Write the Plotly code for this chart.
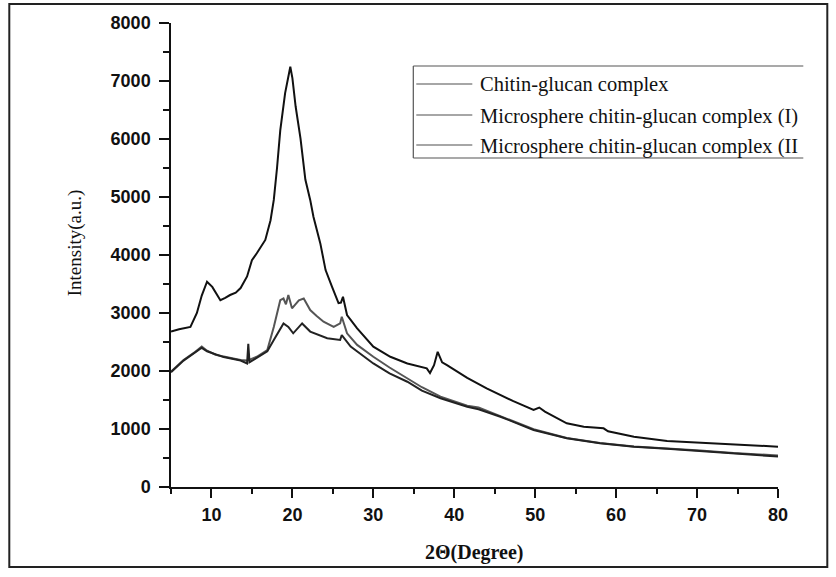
import plotly.graph_objects as go

# ---------------- data ----------------
cg_x = [5.0, 6.0, 7.4, 8.2, 8.8, 9.45, 10.1, 10.7, 11.1, 11.7, 12.3, 13.0, 13.6, 14.4, 15.0, 15.6,
        16.2, 16.65, 17.3, 17.7, 18.1, 18.5, 19.1, 19.5, 19.74, 20.0, 20.4, 21.0, 21.6, 22.2, 22.6,
        23.45, 24.1, 24.9, 25.7, 26.0, 26.25, 26.75, 28.0, 30.0, 32.1, 34.2, 36.6, 37.0, 37.5, 37.95,
        38.5, 39.1, 41.6, 44.0, 45.7, 47.3, 49.8, 50.5, 51.2, 53.9, 56.0, 58.45, 59.0, 62.2, 66.3,
        70.4, 74.5, 80.0]
cg_y = [2680, 2720, 2760, 3000, 3300, 3540, 3450, 3300, 3220, 3260, 3310, 3350, 3430, 3630, 3910, 4030,
        4150, 4260, 4600, 4950, 5500, 6150, 6790, 7100, 7245, 7050, 6560, 6010, 5300, 4950, 4660,
        4200, 3740, 3450, 3170, 3180, 3280, 2965, 2735, 2420, 2245, 2130, 2045, 1965, 2100, 2330,
        2150, 2100, 1880, 1700, 1586, 1480, 1327, 1370, 1300, 1098, 1040, 1012, 960, 867, 793,
        764, 736, 695]

m1_x = [5.0, 6.55, 8.0, 8.8, 9.45, 10.5, 11.5, 12.5, 13.6, 14.4, 15.6, 16.9, 17.7, 18.5, 18.9, 19.2,
        19.5, 19.95, 20.4, 20.8, 21.4, 22.2, 23.0, 23.85, 25.1, 25.9, 26.1, 26.75, 28.0, 30.0, 32.0,
        34.2, 36.0, 38.3, 40.0, 41.6, 43.0, 45.7, 49.8, 53.9, 58.0, 62.2, 66.3, 70.4, 74.5, 80.0]
m1_y = [1990, 2190, 2330, 2420, 2350, 2280, 2250, 2220, 2190, 2180, 2245, 2360, 2760, 3220, 3250, 3150,
        3310, 3080, 3150, 3220, 3250, 3050, 2950, 2850, 2760, 2820, 2935, 2650, 2450, 2245, 2060,
        1880, 1720, 1557, 1470, 1400, 1370, 1220, 995, 845, 760, 700, 670, 630, 585, 545]

m2_x = [5.0, 6.55, 8.8, 9.45, 11.5, 13.6, 14.4, 14.55, 14.7, 15.6, 16.9, 17.7, 18.9, 19.5, 20.1, 21.2,
        22.2, 24.3, 25.9, 26.1, 27.2, 30.0, 32.0, 34.2, 36.0, 38.3, 41.6, 43.0, 45.7, 49.8, 53.9,
        58.0, 62.2, 66.3, 70.4, 74.5, 80.0]
m2_y = [1980, 2180, 2400, 2340, 2240, 2180, 2130, 2470, 2150, 2230, 2340, 2535, 2820, 2760, 2650, 2820,
        2680, 2565, 2535, 2620, 2420, 2130, 1960, 1815, 1660, 1530, 1384, 1340, 1212, 983, 840,
        753, 695, 660, 620, 575, 525]

legend_labels = ["Chitin-glucan complex",
                 "Microsphere chitin-glucan complex (I)",
                 "Microsphere chitin-glucan complex (II"]
x_tick_vals = [10, 20, 30, 40, 50, 60, 70, 80]
y_tick_vals = [0, 1000, 2000, 3000, 4000, 5000, 6000, 7000, 8000]

# ---------------- layout geometry ----------------
W, H = 836, 577
L, R, T, B = 170.7, 777.7, 23.0, 487.0   # plot area in pixels


def px(x):
    return (x - L) / (R - L)


def py(y):
    return (B - y) / (B - T)


fig = go.Figure()
series = [(cg_x, cg_y, "#111111"), (m1_x, m1_y, "#555555"), (m2_x, m2_y, "#222222")]
for (xs, ys, col), name in zip(series, legend_labels):
    fig.add_trace(go.Scatter(x=xs, y=ys, mode="lines", name=name,
                             line=dict(color=col, width=2), showlegend=False))

axis_font = dict(family="Liberation Sans", size=18, color="#111111", weight="bold")
fig.update_layout(
    width=W, height=H, autosize=False,
    margin=dict(l=L, r=W - R, t=T, b=H - B, pad=0),
    paper_bgcolor="white", plot_bgcolor="white",
    xaxis=dict(range=[5, 80], tickvals=x_tick_vals, ticks="outside", ticklen=9, tickwidth=1.5,
               tickcolor="#111", showline=True, linecolor="#111", linewidth=1.5, showgrid=False,
               zeroline=False, tickfont=axis_font, ticklabelstandoff=2,
               minor=dict(tickvals=[5, 15, 25, 35, 45, 55, 65, 75], ticks="outside", ticklen=5,
                          tickwidth=1.5, tickcolor="#111", showgrid=False)),
    yaxis=dict(range=[0, 8000], tickvals=y_tick_vals, ticks="outside", ticklen=10, tickwidth=1.5,
               tickcolor="#111", showline=True, linecolor="#111", linewidth=1.5, showgrid=False,
               zeroline=False, tickfont=axis_font, ticklabelstandoff=5,
               minor=dict(tickvals=[500, 1500, 2500, 3500, 4500, 5500, 6500, 7500], ticks="outside",
                          ticklen=6, tickwidth=1.5, tickcolor="#111", showgrid=False)),
)

shapes = []
# outer frame
shapes.append(dict(type="rect", xref="paper", yref="paper", x0=px(9), x1=px(827), y0=py(567), y1=py(4),
                   line=dict(color="#222", width=2), layer="above"))
# legend box (top, left, bottom edges; right side clipped in reference)
lg_l, lg_r, lg_t, lg_b = 413, 803, 66, 158
for (xa, ya, xb, yb) in [(lg_l, lg_t, lg_r, lg_t), (lg_l, lg_t, lg_l, lg_b), (lg_l, lg_b, lg_r, lg_b)]:
    shapes.append(dict(type="line", xref="paper", yref="paper", x0=px(xa), y0=py(ya), x1=px(xb), y1=py(yb),
                       line=dict(color="#555", width=1.2)))
rows = [84, 115, 145]
for ry in rows:
    shapes.append(dict(type="line", xref="paper", yref="paper", x0=px(416), x1=px(472), y0=py(ry), y1=py(ry),
                       line=dict(color="#888", width=1.5)))
fig.update_layout(shapes=shapes)

ann = []
for ry, lab in zip(rows, legend_labels):
    ann.append(dict(xref="paper", yref="paper", x=px(478), y=py(ry + 1), text=lab, showarrow=False,
                    xanchor="left", yanchor="middle",
                    font=dict(family="Liberation Serif", size=20.5, color="#111")))
ann.append(dict(xref="paper", yref="paper", x=px(75), y=py(243), text="Intensity(a.u.)", showarrow=False,
                textangle=-90, xanchor="center", yanchor="middle",
                font=dict(family="Liberation Serif", size=19, color="#111")))
ann.append(dict(xref="paper", yref="paper", x=px(474), y=py(552), text="<b>2Θ(Degree)</b>", showarrow=False,
                xanchor="center", yanchor="middle",
                font=dict(family="Liberation Serif", size=20, color="#111")))
fig.update_layout(annotations=ann)

fig.write_html("out.html", config={"displayModeBar": False},
               post_script="document.body.style.margin='0px';document.body.style.overflow='hidden';")
